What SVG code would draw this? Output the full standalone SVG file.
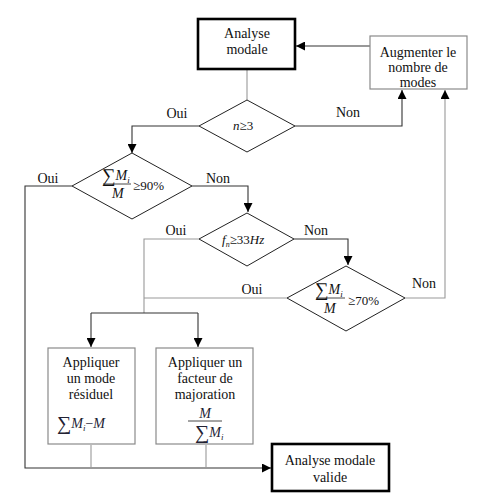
<svg xmlns="http://www.w3.org/2000/svg" width="492" height="503" viewBox="0 0 492 503">
<style>
.c{text-anchor:middle}
.thick{fill:#fff;stroke:#000;stroke-width:2.6}
.thin{fill:#fff;stroke:#8a8a8a;stroke-width:1.2}
.dia{fill:#fff;stroke:#222;stroke-width:1}
.ln{fill:none;stroke:#333;stroke-width:1.1}
.lg{fill:none;stroke:#999;stroke-width:1.1}
.bar{stroke:#333;stroke-width:0.9}
</style>
<defs>
<marker id="ah" viewBox="0 0 10 10" refX="10" refY="5" markerWidth="9" markerHeight="9" markerUnits="userSpaceOnUse" orient="auto">
<path d="M0,0 L10,5 L0,10 z" fill="#000"/>
</marker>
</defs>
<rect width="492" height="503" fill="#fff"/>
<g id="connectors">
<path class="ln" d="M370,46 H296" marker-end="url(#ah)"/>
<path class="lg" d="M247,70 V100"/>
<path class="ln" d="M199,126 H132 V153" marker-end="url(#ah)"/>
<path class="ln" d="M295,126 H402 V90" marker-end="url(#ah)"/>
<path class="ln" d="M72,186 H25 V468 H271" marker-end="url(#ah)"/>
<path class="ln" d="M192,186 H248 V212" marker-end="url(#ah)"/>
<path class="lg" d="M199,239 H144 V313"/>
<path class="lg" d="M287,298 H144"/>
<path class="ln" d="M91,313 H198"/>
<path class="ln" d="M91,313 V347" marker-end="url(#ah)"/>
<path class="ln" d="M198,313 V347" marker-end="url(#ah)"/>
<path class="ln" d="M294,239 H348 V265" marker-end="url(#ah)"/>
<path class="lg" d="M405,298 H445 V90" marker-end="url(#ah)"/>
<path class="lg" d="M91,445 V468"/>
<path class="lg" d="M206,445 V468"/>
</g>
<g font-family="'Liberation Serif', 'Times New Roman', serif" font-size="14" fill="#111">
<g id="analyse">
<rect class="thick" x="198" y="19" width="97" height="50"/>
<text class="c" x="247" y="38">Analyse</text>
<text class="c" x="247" y="54">modale</text>
</g>
<g id="augmenter">
<rect class="thin" x="370" y="36" width="97" height="53"/>
<text class="c" x="418" y="57">Augmenter le</text>
<text class="c" x="418" y="72">nombre de</text>
<text class="c" x="418" y="87">modes</text>
</g>
<g id="d1">
<polygon class="dia" points="247,100 295,126 247,152 199,126"/>
<text x="233" y="130" font-size="13"><tspan font-style="italic">n</tspan>≥3</text>
</g>
<g id="d2">
<polygon class="dia" points="132,153 192,186 132,219 72,186"/>
<text x="102" y="182"><tspan font-size="19">∑</tspan><tspan font-style="italic" dy="-2">M</tspan><tspan font-style="italic" font-size="9" dy="3">i</tspan></text>
<line class="bar" x1="103" y1="184" x2="131" y2="184"/>
<text x="112" y="198" font-style="italic">M</text>
<text x="133" y="190" font-size="13">≥90%</text>
</g>
<g id="d3">
<polygon class="dia" points="247,213 294,239 247,266 199,239"/>
<text x="222" y="244" font-size="13"><tspan font-style="italic">f</tspan><tspan font-style="italic" font-size="8" dy="3">n</tspan><tspan dy="-3">≥33</tspan><tspan font-style="italic">Hz</tspan></text>
</g>
<g id="d4">
<polygon class="dia" points="346,266 405,298 346,331 287,298"/>
<text x="315" y="296"><tspan font-size="19">∑</tspan><tspan font-style="italic" dy="-2">M</tspan><tspan font-style="italic" font-size="9" dy="3">i</tspan></text>
<line class="bar" x1="316" y1="298" x2="345" y2="298"/>
<text x="324" y="313" font-style="italic">M</text>
<text x="348" y="305" font-size="13">≥70%</text>
</g>
<g id="residuel">
<rect class="thin" x="48" y="348" width="87" height="96"/>
<text class="c" x="91" y="367">Appliquer</text>
<text class="c" x="91" y="383">un mode</text>
<text class="c" x="91" y="399">résiduel</text>
<text x="57" y="430" fill="#223"><tspan font-size="20">∑</tspan><tspan font-style="italic" dy="-2">M</tspan><tspan font-style="italic" font-size="9" dy="3">i</tspan><tspan dy="-3">−</tspan><tspan font-style="italic">M</tspan></text>
</g>
<g id="majoration">
<rect class="thin" x="156" y="348" width="97" height="96"/>
<text class="c" x="205" y="418" font-style="italic" fill="#223">M</text>
<text class="c" x="205" y="367">Appliquer un</text>
<text class="c" x="205" y="383">facteur de</text>
<text class="c" x="205" y="399">majoration</text>
<line class="bar" x1="188" y1="421" x2="222" y2="421"/>
<text x="195" y="439" fill="#223"><tspan font-size="20">∑</tspan><tspan font-style="italic" dy="-2">M</tspan><tspan font-style="italic" font-size="9" dy="3">i</tspan></text>
</g>
<g id="valide">
<rect class="thick" x="272" y="444" width="117" height="47"/>
<text class="c" x="330" y="465">Analyse modale</text>
<text class="c" x="330" y="482">valide</text>
</g>
<g id="labels">
<text class="c" x="177" y="118">Oui</text>
<text class="c" x="348" y="117">Non</text>
<text class="c" x="48" y="183">Oui</text>
<text class="c" x="218" y="183">Non</text>
<text class="c" x="176" y="235">Oui</text>
<text class="c" x="316" y="235">Non</text>
<text class="c" x="252" y="294">Oui</text>
<text class="c" x="424" y="288">Non</text>
</g>
</g>
</svg>
